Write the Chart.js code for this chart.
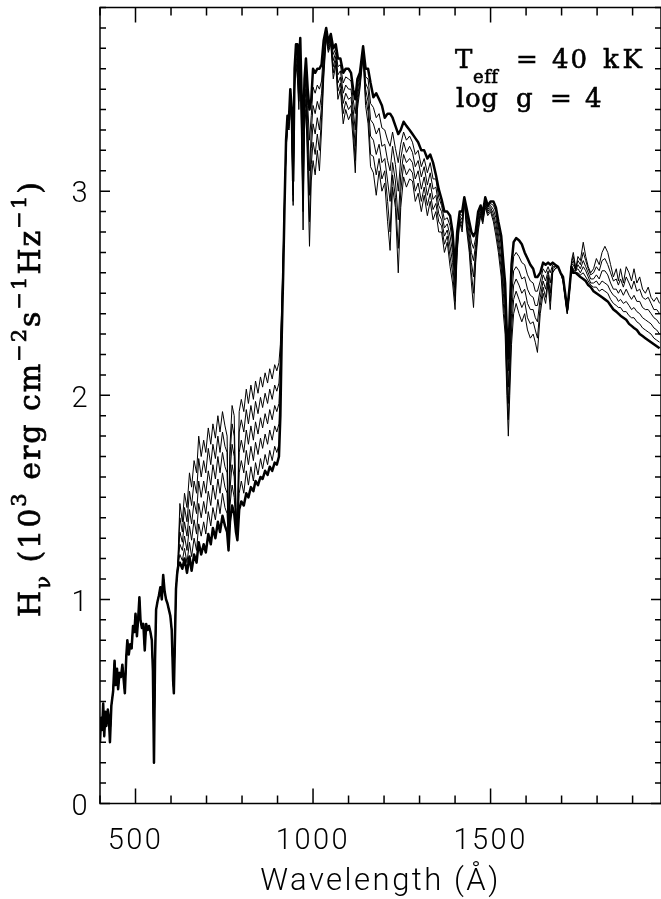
<!DOCTYPE html>
<html><head><meta charset="utf-8">
<script src="https://cdn.jsdelivr.net/npm/chart.js@4.4.1/dist/chart.umd.min.js"></script>
<style>html,body{margin:0;padding:0;background:#fff;overflow:hidden}#c{display:block}</style>
</head><body>
<canvas id="c" width="661" height="899" style="width:661px;height:899px"></canvas>
<script>
// Wavelength grid (Angstrom) shared by the six model spectra
const wavelength = [
 400,403,406,409,412,415,418,422,425,428,432,437,441,444,448,451,455,459,463,467,470,474,477,481,485,489,493,497,500,504,508,511,514,518,522,526,530,534,538,542,546,549,552,555,558,562,566,570,574,578,582,586,590,594,598,602,606,608,611,614,617,
 620,625,632,638,645,652,658,665,672,678,685,692,698,705,712,718,725,732,738,745,752,758,762,766,772,778,783,787,792,798,805,812,818,825,832,838,845,852,858,865,872,878,885,892,898,904,
 908,912,916,920,924,928,932,936,940,944,948,952,956,960,964,968,972,976,980,985,990,995,1000,1006,1012,1018,1024,1030,1037,1043,1050,
 1057,1064,1070,1077,1085,1092,1100,1107,1113,1119,
 1125,1132,1141,1148,1155,1162,1170,1178,1186,1194,
 1202,1210,1217,1224,1232,1240,1247,1255,1263,1272,
 1280,1288,1296,1305,1313,1322,1330,1338,1346,1354,
 1362,1370,1378,1386,1393,1400,1406,1413,1420,1426,
 1432,1440,1446,1452,1458,1465,1472,1478,1485,1492,
 1500,1508,1515,1522,1530,1536,1541,1546,1550,1554,
 1559,1565,1572,1580,1588,1596,1604,1612,1620,1626,
 1632,1640,1648,1655,1662,1668,1675,1682,1690,1697,
 1704,1710,1716,1722,1728,1733,1740,
 1746,1753,1761,1768,1775,1782,1790,1798,1806,1814,1822,1830,1838,1846,1854,1860,1866,1874,1882,1890,1897,1904,1912,1920,1928,1936,1944,1952,1960,1968,1976
];

// H_nu (10^3 erg cm^-2 s^-1 Hz^-1), model 1 (thinnest) ... model 6 (thick line)
const hnu1 = [
 0.30,0.42,0.36,0.49,0.33,0.45,0.38,0.46,0.42,0.30,0.48,0.55,0.70,0.58,0.66,0.56,0.64,0.62,0.68,0.60,0.54,0.72,0.80,0.73,0.78,0.76,0.87,0.84,0.93,0.82,0.92,1.01,0.90,0.86,0.88,0.75,0.88,0.85,0.87,0.84,0.80,0.65,0.20,0.70,0.95,0.99,1.02,1.06,1.00,1.12,1.04,1.00,0.98,0.95,0.92,0.85,0.60,0.54,0.80,1.05,1.12,
 1.22,1.47,1.38,1.52,1.45,1.62,1.55,1.68,1.62,1.80,1.70,1.78,1.72,1.84,1.76,1.86,1.79,1.90,1.82,1.92,1.85,1.80,1.30,1.75,1.95,1.90,1.45,1.35,1.92,1.98,1.92,2.03,1.96,2.05,1.98,2.07,2.01,2.09,2.04,2.11,2.06,2.13,2.08,2.15,2.12,2.16,
 2.25,2.45,2.70,3.00,3.20,3.32,3.30,3.45,3.30,2.93,3.50,3.62,3.55,3.40,3.60,3.20,2.81,3.30,3.40,3.10,2.73,3.05,3.15,3.08,3.20,3.10,3.30,3.55,3.75,3.68,3.72,
 3.55,3.62,3.45,3.50,3.33,3.40,3.35,3.38,3.25,3.09,
 3.40,3.50,3.66,3.42,3.33,3.12,3.09,2.98,3.10,3.00,
 3.04,2.85,2.71,3.02,2.92,2.60,2.92,3.07,3.02,3.06,
 3.05,2.95,2.99,2.90,2.98,2.88,2.95,2.86,2.90,2.80,
 2.80,2.70,2.75,2.63,2.55,2.42,2.70,2.85,2.80,2.95,
 2.82,2.70,2.55,2.43,2.65,2.80,2.88,2.84,2.92,2.88,
 2.90,2.85,2.78,2.70,2.58,2.40,2.30,2.00,1.80,2.00,
 2.25,2.40,2.45,2.40,2.36,2.40,2.32,2.28,2.30,2.26,
 2.21,2.40,2.50,2.45,2.55,2.42,2.60,2.62,2.63,2.60,
 2.56,2.48,2.40,2.50,2.66,2.70,2.62,
 2.68,2.66,2.75,2.68,2.63,2.60,2.62,2.67,2.64,2.70,2.73,2.70,2.64,2.58,2.62,2.56,2.62,2.55,2.63,2.60,2.56,2.62,2.55,2.58,2.52,2.50,2.53,2.48,2.46,2.48,2.45
];
const hnu2 = [
 0.30,0.42,0.36,0.49,0.33,0.45,0.38,0.46,0.42,0.30,0.48,0.55,0.70,0.58,0.66,0.56,0.64,0.62,0.68,0.60,0.54,0.72,0.80,0.73,0.78,0.76,0.87,0.84,0.93,0.82,0.92,1.01,0.90,0.86,0.88,0.75,0.88,0.85,0.87,0.84,0.80,0.65,0.20,0.70,0.95,0.99,1.02,1.06,1.00,1.12,1.04,1.00,0.98,0.95,0.92,0.85,0.60,0.54,0.80,1.05,1.12,
 1.20,1.40,1.33,1.45,1.38,1.53,1.46,1.58,1.52,1.69,1.60,1.68,1.62,1.74,1.66,1.76,1.69,1.80,1.72,1.82,1.75,1.72,1.28,1.70,1.86,1.80,1.42,1.33,1.82,1.88,1.82,1.93,1.86,1.95,1.88,1.97,1.91,1.99,1.94,2.01,1.96,2.03,1.98,2.05,2.02,2.06,
 2.18,2.42,2.68,2.98,3.20,3.32,3.30,3.45,3.32,2.95,3.52,3.64,3.58,3.44,3.63,3.25,2.90,3.35,3.45,3.18,2.85,3.13,3.24,3.18,3.28,3.20,3.36,3.58,3.76,3.69,3.73,
 3.58,3.64,3.49,3.53,3.38,3.44,3.40,3.42,3.30,3.15,
 3.43,3.52,3.67,3.46,3.39,3.18,3.17,3.08,3.16,3.06,
 3.10,2.95,2.80,3.08,2.97,2.72,3.00,3.13,3.08,3.11,
 3.09,3.00,3.04,2.95,3.02,2.93,2.99,2.91,2.94,2.85,
 2.83,2.74,2.78,2.68,2.60,2.46,2.72,2.86,2.82,2.95,
 2.84,2.73,2.60,2.50,2.68,2.82,2.89,2.85,2.93,2.89,
 2.91,2.87,2.81,2.73,2.62,2.45,2.35,2.06,1.88,2.08,
 2.32,2.47,2.51,2.47,2.43,2.46,2.38,2.35,2.36,2.32,
 2.28,2.44,2.53,2.48,2.57,2.46,2.61,2.62,2.63,2.60,
 2.56,2.48,2.40,2.50,2.65,2.68,2.62,
 2.66,2.64,2.70,2.66,2.62,2.59,2.60,2.63,2.61,2.66,2.67,2.64,2.60,2.56,2.57,2.54,2.57,2.53,2.58,2.55,2.52,2.56,2.51,2.52,2.48,2.47,2.48,2.45,2.42,2.42,2.40
];
const hnu3 = [
 0.30,0.42,0.36,0.49,0.33,0.45,0.38,0.46,0.42,0.30,0.48,0.55,0.70,0.58,0.66,0.56,0.64,0.62,0.68,0.60,0.54,0.72,0.80,0.73,0.78,0.76,0.87,0.84,0.93,0.82,0.92,1.01,0.90,0.86,0.88,0.75,0.88,0.85,0.87,0.84,0.80,0.65,0.20,0.70,0.95,0.99,1.02,1.06,1.00,1.12,1.04,1.00,0.98,0.95,0.92,0.85,0.60,0.54,0.80,1.05,1.12,
 1.19,1.33,1.28,1.38,1.31,1.44,1.37,1.48,1.42,1.58,1.50,1.58,1.52,1.63,1.56,1.66,1.59,1.70,1.62,1.72,1.65,1.62,1.27,1.62,1.76,1.70,1.40,1.32,1.72,1.78,1.72,1.83,1.76,1.85,1.78,1.87,1.81,1.89,1.84,1.91,1.86,1.93,1.88,1.95,1.92,1.96,
 2.10,2.38,2.66,2.97,3.21,3.33,3.31,3.46,3.34,2.98,3.54,3.66,3.62,3.48,3.66,3.30,3.00,3.40,3.50,3.26,2.98,3.21,3.33,3.28,3.36,3.30,3.42,3.62,3.77,3.70,3.74,
 3.61,3.66,3.53,3.56,3.43,3.48,3.45,3.46,3.35,3.22,
 3.46,3.54,3.68,3.50,3.44,3.27,3.25,3.18,3.23,3.14,
 3.16,3.05,2.95,3.14,3.05,2.86,3.08,3.18,3.14,3.16,
 3.14,3.06,3.10,3.01,3.07,2.98,3.04,2.96,2.98,2.89,
 2.86,2.78,2.81,2.73,2.65,2.50,2.74,2.87,2.84,2.96,
 2.86,2.76,2.65,2.58,2.71,2.84,2.90,2.86,2.94,2.90,
 2.92,2.89,2.84,2.76,2.66,2.50,2.40,2.12,1.96,2.16,
 2.40,2.54,2.57,2.54,2.50,2.52,2.45,2.42,2.42,2.38,
 2.36,2.48,2.56,2.52,2.59,2.50,2.62,2.63,2.63,2.60,
 2.57,2.49,2.41,2.51,2.64,2.66,2.61,
 2.64,2.62,2.66,2.63,2.60,2.57,2.57,2.59,2.57,2.61,2.61,2.59,2.55,2.52,2.52,2.50,2.52,2.49,2.52,2.49,2.47,2.49,2.46,2.46,2.43,2.42,2.42,2.40,2.38,2.37,2.35
];
const hnu4 = [
 0.30,0.42,0.36,0.49,0.33,0.45,0.38,0.46,0.42,0.30,0.48,0.55,0.70,0.58,0.66,0.56,0.64,0.62,0.68,0.60,0.54,0.72,0.80,0.73,0.78,0.76,0.87,0.84,0.93,0.82,0.92,1.01,0.90,0.86,0.88,0.75,0.88,0.85,0.87,0.84,0.80,0.65,0.20,0.70,0.95,0.99,1.02,1.06,1.00,1.12,1.04,1.00,0.98,0.95,0.92,0.85,0.60,0.54,0.80,1.05,1.12,
 1.18,1.27,1.24,1.31,1.24,1.36,1.29,1.39,1.32,1.47,1.40,1.48,1.42,1.53,1.46,1.56,1.49,1.59,1.52,1.62,1.55,1.52,1.26,1.54,1.66,1.60,1.38,1.31,1.62,1.68,1.62,1.73,1.66,1.75,1.68,1.77,1.71,1.79,1.74,1.81,1.76,1.83,1.78,1.85,1.82,1.86,
 2.03,2.35,2.64,2.96,3.22,3.34,3.32,3.47,3.36,3.00,3.56,3.68,3.65,3.52,3.69,3.35,3.10,3.45,3.55,3.34,3.10,3.29,3.42,3.38,3.44,3.40,3.48,3.66,3.78,3.71,3.75,
 3.64,3.68,3.57,3.59,3.48,3.52,3.50,3.50,3.40,3.30,
 3.49,3.56,3.69,3.53,3.50,3.35,3.33,3.28,3.31,3.22,
 3.23,3.15,3.10,3.22,3.13,3.00,3.16,3.24,3.19,3.22,
 3.19,3.12,3.15,3.07,3.12,3.03,3.09,3.01,3.02,2.93,
 2.90,2.82,2.84,2.78,2.70,2.54,2.76,2.88,2.86,2.96,
 2.88,2.79,2.70,2.66,2.74,2.86,2.91,2.87,2.95,2.91,
 2.93,2.91,2.87,2.79,2.70,2.55,2.45,2.18,2.04,2.24,
 2.48,2.61,2.63,2.61,2.57,2.58,2.52,2.49,2.48,2.44,
 2.44,2.52,2.59,2.56,2.61,2.55,2.63,2.63,2.63,2.60,
 2.57,2.49,2.41,2.51,2.64,2.64,2.61,
 2.62,2.60,2.63,2.61,2.58,2.55,2.55,2.56,2.54,2.56,2.55,2.54,2.51,2.49,2.48,2.46,2.47,2.45,2.46,2.44,2.42,2.43,2.41,2.40,2.38,2.37,2.36,2.35,2.33,2.32,2.30
];
const hnu5 = [
 0.30,0.42,0.36,0.49,0.33,0.45,0.38,0.46,0.42,0.30,0.48,0.55,0.70,0.58,0.66,0.56,0.64,0.62,0.68,0.60,0.54,0.72,0.80,0.73,0.78,0.76,0.87,0.84,0.93,0.82,0.92,1.01,0.90,0.86,0.88,0.75,0.88,0.85,0.87,0.84,0.80,0.65,0.20,0.70,0.95,0.99,1.02,1.06,1.00,1.12,1.04,1.00,0.98,0.95,0.92,0.85,0.60,0.54,0.80,1.05,1.12,
 1.17,1.22,1.19,1.25,1.18,1.28,1.21,1.30,1.24,1.37,1.31,1.38,1.32,1.43,1.36,1.45,1.39,1.49,1.42,1.52,1.45,1.42,1.25,1.46,1.56,1.50,1.36,1.30,1.52,1.58,1.52,1.63,1.56,1.65,1.58,1.67,1.61,1.69,1.64,1.71,1.66,1.73,1.68,1.75,1.72,1.76,
 1.96,2.32,2.62,2.95,3.23,3.35,3.33,3.48,3.38,3.02,3.58,3.70,3.68,3.56,3.72,3.40,3.20,3.50,3.60,3.42,3.25,3.37,3.51,3.48,3.52,3.50,3.54,3.70,3.79,3.72,3.76,
 3.67,3.70,3.61,3.62,3.53,3.56,3.55,3.54,3.45,3.38,
 3.52,3.57,3.70,3.56,3.55,3.43,3.41,3.36,3.38,3.31,
 3.30,3.25,3.22,3.29,3.21,3.14,3.23,3.29,3.25,3.27,
 3.24,3.18,3.20,3.12,3.16,3.09,3.14,3.06,3.06,2.97,
 2.93,2.86,2.87,2.83,2.75,2.58,2.78,2.89,2.88,2.97,
 2.90,2.82,2.75,2.72,2.77,2.88,2.92,2.88,2.96,2.92,
 2.94,2.93,2.90,2.82,2.74,2.60,2.50,2.24,2.12,2.32,
 2.56,2.68,2.70,2.68,2.65,2.64,2.59,2.56,2.55,2.51,
 2.51,2.56,2.62,2.60,2.63,2.60,2.64,2.64,2.63,2.60,
 2.58,2.50,2.42,2.52,2.63,2.62,2.60,
 2.60,2.59,2.60,2.58,2.56,2.54,2.53,2.53,2.51,2.52,2.51,2.50,2.47,2.45,2.44,2.43,2.43,2.41,2.41,2.39,2.38,2.38,2.36,2.35,2.33,2.32,2.31,2.30,2.28,2.27,2.26
];
const hnu6 = [
 0.30,0.42,0.36,0.49,0.33,0.45,0.38,0.46,0.42,0.30,0.48,0.55,0.70,0.58,0.66,0.56,0.64,0.62,0.68,0.60,0.54,0.72,0.80,0.73,0.78,0.76,0.87,0.84,0.93,0.82,0.92,1.01,0.90,0.86,0.88,0.75,0.88,0.85,0.87,0.84,0.80,0.65,0.20,0.70,0.95,0.99,1.02,1.06,1.00,1.12,1.04,1.00,0.98,0.95,0.92,0.85,0.60,0.54,0.80,1.05,1.12,
 1.16,1.18,1.15,1.20,1.13,1.21,1.14,1.22,1.18,1.28,1.22,1.27,1.23,1.32,1.27,1.35,1.30,1.38,1.33,1.41,1.36,1.33,1.24,1.38,1.46,1.42,1.33,1.29,1.44,1.48,1.46,1.52,1.50,1.55,1.53,1.58,1.56,1.60,1.59,1.63,1.61,1.65,1.63,1.67,1.66,1.70,
 1.90,2.30,2.60,2.95,3.25,3.37,3.35,3.50,3.40,3.05,3.60,3.72,3.72,3.60,3.75,3.45,3.30,3.55,3.65,3.50,3.40,3.45,3.60,3.58,3.60,3.60,3.62,3.74,3.80,3.73,3.77,
 3.70,3.72,3.65,3.65,3.58,3.60,3.60,3.58,3.50,3.45,
 3.55,3.58,3.71,3.60,3.60,3.53,3.46,3.48,3.45,3.42,
 3.36,3.38,3.38,3.36,3.32,3.28,3.30,3.34,3.32,3.30,
 3.28,3.26,3.24,3.20,3.20,3.16,3.18,3.14,3.08,3.01,
 2.96,2.90,2.90,2.88,2.80,2.62,2.80,2.90,2.90,2.97,
 2.92,2.85,2.80,2.78,2.80,2.90,2.93,2.89,2.97,2.93,
 2.95,2.95,2.92,2.85,2.78,2.65,2.55,2.30,2.18,2.40,
 2.64,2.75,2.77,2.76,2.74,2.70,2.67,2.64,2.62,2.58,
 2.58,2.60,2.65,2.64,2.65,2.64,2.65,2.64,2.63,2.60,
 2.58,2.50,2.42,2.52,2.63,2.60,2.60,
 2.59,2.58,2.57,2.56,2.54,2.53,2.51,2.50,2.49,2.48,2.47,2.46,2.44,2.42,2.41,2.40,2.39,2.38,2.37,2.35,2.34,2.33,2.32,2.30,2.29,2.28,2.27,2.26,2.25,2.24,2.23
];

const xTickValues = [500, 1000, 1500];
const yTickValues = [0, 1, 2, 3];
const xRange = [400, 1980];
const yRange = [0, 3.9];

const spectra = [hnu1, hnu2, hnu3, hnu4, hnu5, hnu6];
const lineWidths = [1.0, 1.0, 1.0, 1.0, 1.0, 2.5];

const SERIF = '"DejaVu Serif", "Liberation Serif", serif';
const SANS = 'Roboto, "DejaVu Sans", sans-serif';

function drawFit(ctx, text, x, y, target) {
  const chars = [...text];
  let nat = 0; chars.forEach(c => nat += ctx.measureText(c).width);
  const extra = chars.length > 1 ? (target - nat) / (chars.length - 1) : 0;
  let cx = x;
  chars.forEach(c => { ctx.fillText(c, cx, y); ctx.strokeText(c, cx, y); cx += ctx.measureText(c).width + extra; });
}

const spacing = {
  id: 'spacing',
  beforeDraw(chart) { chart.ctx.letterSpacing = '2.5px'; }
};

const decor = {
  id: 'decor',
  afterDraw(chart) {
    const {ctx, chartArea: a, scales: {x, y}} = chart;
    ctx.save();
    ctx.letterSpacing = '0px';
    ctx.strokeStyle = '#000'; ctx.lineWidth = 1.5;
    ctx.strokeRect(a.left, a.top, a.right - a.left, a.bottom - a.top);
    ctx.beginPath();
    for (let w = 400; w <= xRange[1]; w += 100) {
      const px = x.getPixelForValue(w);
      const L = (w % 500 === 0) ? 15 : 8;
      ctx.moveTo(px, a.bottom); ctx.lineTo(px, a.bottom - L);
      ctx.moveTo(px, a.top); ctx.lineTo(px, a.top + L);
    }
    for (let k = 0; k <= 39; k++) {
      const py = y.getPixelForValue(k / 10);
      const L = (k % 10 === 0) ? 10 : 6;
      ctx.moveTo(a.left, py); ctx.lineTo(a.left + L, py);
      ctx.moveTo(a.right, py); ctx.lineTo(a.right - L, py);
    }
    ctx.stroke();

    // annotation
    ctx.fillStyle = '#000'; ctx.textBaseline = 'alphabetic'; ctx.textAlign = 'left';
    ctx.lineWidth = 0.6;
    ctx.font = '26px ' + SERIF;
    drawFit(ctx, 'T', 455, 68, 20);
    drawFit(ctx, '=', 516, 68, 18);
    drawFit(ctx, '40', 552, 68, 35);
    drawFit(ctx, 'kK', 603, 68, 39);
    drawFit(ctx, 'log', 456, 107, 42);
    drawFit(ctx, 'g', 516, 107, 16);
    drawFit(ctx, '=', 550, 107, 18);
    drawFit(ctx, '4', 585, 107, 16);
    ctx.font = '18px ' + SERIF;
    drawFit(ctx, 'eff', 473, 83, 25);

    // y-axis title, rotated
    const pieces = [
      ['H', 'm'], ['\u03BD', 'b'], [' (10', 'm'], ['3', 'p'], [' erg cm', 'm'], ['\u22122', 'p'],
      ['s', 'm'], ['\u22121', 'p'], ['Hz', 'm'], ['\u22121', 'p'], [')', 'm']
    ];
    const fonts = {m: '30px ' + SERIF, b: '21px ' + SERIF, p: '21px ' + SERIF};
    const offs = {m: 0, b: 10, p: -14};
    let nat = 0, n = 0;
    pieces.forEach(([t, s]) => { ctx.font = fonts[s]; [...t].forEach(c => { nat += ctx.measureText(c).width; n++; }); });
    const target = 435;
    const extra = (target - nat) / (n - 1);
    ctx.translate(40, 617);
    ctx.rotate(-Math.PI / 2);
    ctx.lineWidth = 0.7;
    let u = 0;
    pieces.forEach(([t, s]) => {
      ctx.font = fonts[s];
      [...t].forEach(c => { ctx.fillText(c, u, offs[s]); ctx.strokeText(c, u, offs[s]); u += ctx.measureText(c).width + extra; });
    });
    ctx.restore();
  }
};

new Chart(document.getElementById('c'), {
  type: 'line',
  data: {
    datasets: spectra.map((s, i) => ({
      data: wavelength.map((w, j) => ({x: w, y: s[j]})),
      borderColor: '#000', borderWidth: lineWidths[i], pointRadius: 0, tension: 0, fill: false,
      borderJoinStyle: 'round'
    }))
  },
  options: {
    responsive: false, animation: false, devicePixelRatio: 1,
    layout: {padding: {top: 7.5, right: 0, left: 0, bottom: 0}},
    plugins: {legend: {display: false}, tooltip: {enabled: false}},
    scales: {
      x: {
        type: 'linear', min: xRange[0], max: xRange[1],
        grid: {display: false, drawTicks: false}, border: {display: false},
        afterBuildTicks: s => { s.ticks = xTickValues.map(v => ({value: v})); },
        afterFit: s => { s.height = 95.5; s.paddingLeft = 0; s.paddingRight = 0; s.paddingTop = 0; s.paddingBottom = 0; },
        ticks: {color: '#000', font: {family: SANS, size: 29, weight: 300}, padding: 21, maxRotation: 0,
          callback: v => String(v)},
        title: {display: true, text: 'Wavelength (\u00C5)', color: '#000',
          font: {family: SANS, size: 31, weight: 300, lineHeight: 1}, padding: {top: 0, bottom: 1}}
      },
      y: {
        type: 'linear', min: yRange[0], max: yRange[1],
        grid: {display: false, drawTicks: false}, border: {display: false},
        afterBuildTicks: s => { s.ticks = yTickValues.map(v => ({value: v})); },
        afterFit: s => { s.width = 100; s.paddingLeft = 0; s.paddingRight = 0; s.paddingTop = 0; s.paddingBottom = 0; },
        ticks: {color: '#000', font: {family: SANS, size: 29, weight: 300}, padding: 10, labelOffset: 4,
          callback: v => String(v)}
      }
    }
  },
  plugins: [spacing, decor]
});
</script>
</body></html>
